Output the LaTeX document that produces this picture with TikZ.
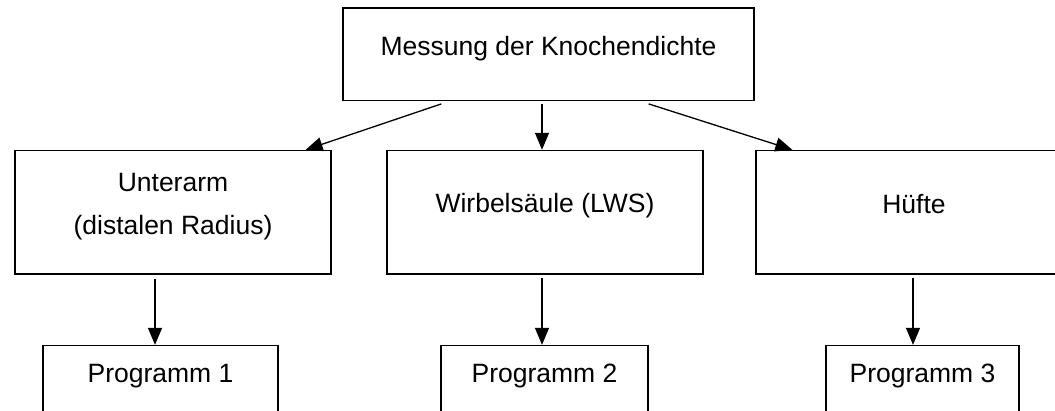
\documentclass[tikz,border=0pt]{standalone}
\usepackage{fontspec}
\setmainfont{Liberation Sans}
\usetikzlibrary{arrows.meta}
\tikzset{
  box/.style={draw=black, line width=1.3pt, fill=none, inner sep=0pt, rectangle},
  lbl/.style={anchor=base, inner sep=0pt, font=\fontsize{26.5}{32}\selectfont, text=black},
  arr/.style={draw=black, line width=1.3pt, -{Triangle[length=17pt,width=14pt]}}
}
\begin{document}
\begin{tikzpicture}[x=1pt,y=-1pt]
\useasboundingbox (0,0) rectangle (1055,411);
\clip (0,0) rectangle (1055,411);
% boxes
\node[box, minimum width=411pt, minimum height=92.7pt] (top) at (548.5,54.4) {};
\node[box, minimum width=316pt, minimum height=123.5pt] (lbox) at (173,212.2) {};
\node[box, minimum width=316pt, minimum height=123.5pt] (mbox) at (545,212.2) {};
\node[box, minimum width=316pt, minimum height=123.5pt] (rbox) at (914,212.2) {};
\node[box, minimum width=235pt, minimum height=94.5pt] (p1) at (160.5,392.75) {};
\node[box, minimum width=207pt, minimum height=94.5pt] (p2) at (544.5,392.75) {};
\node[box, minimum width=193pt, minimum height=94.5pt] (p3) at (922.5,392.75) {};
% labels
\node[lbl] (ttop) at (548.5,56) {Messung der Knochendichte};
\node[lbl] (tl1) at (173,192) {Unterarm};
\node[lbl] (tl2) at (173,235) {(distalen Radius)};
\node[lbl] (tm) at (545,213) {Wirbelsäule (LWS)};
\node[lbl] (tr) at (914,214) {Hüfte};
\node[lbl] (tp1) at (160.5,382.5) {Programm 1};
\node[lbl] (tp2) at (544.5,382.5) {Programm 2};
\node[lbl] (tp3) at (922.5,382.5) {Programm 3};
% connector anchors
\coordinate (s1) at ([shift={(99pt,-2.5pt)}]top.south west);
\coordinate (e1) at ([xshift=-26pt]lbox.north east);
\coordinate (s2) at ([shift={(-6.5pt,-2.5pt)}]top.south);
\coordinate (s3) at ([shift={(-106pt,-2.5pt)}]top.south east);
\coordinate (e3) at ([xshift=37pt]rbox.north west);
\coordinate (d1) at ([shift={(-18pt,-4pt)}]lbox.south);
\coordinate (d2) at ([shift={(-3pt,-3pt)}]mbox.south);
\coordinate (d3) at ([shift={(-1pt,-3pt)}]rbox.south);
% connectors
\draw[arr] (s1) -- (e1);
\draw[arr] (s2) -- (s2 |- mbox.north);
\draw[arr] (s3) -- (e3);
\draw[arr] (d1) -- (d1 |- p1.north);
\draw[arr] (d2) -- (d2 |- p2.north);
\draw[arr] (d3) -- (d3 |- p3.north);
\end{tikzpicture}
\end{document}
